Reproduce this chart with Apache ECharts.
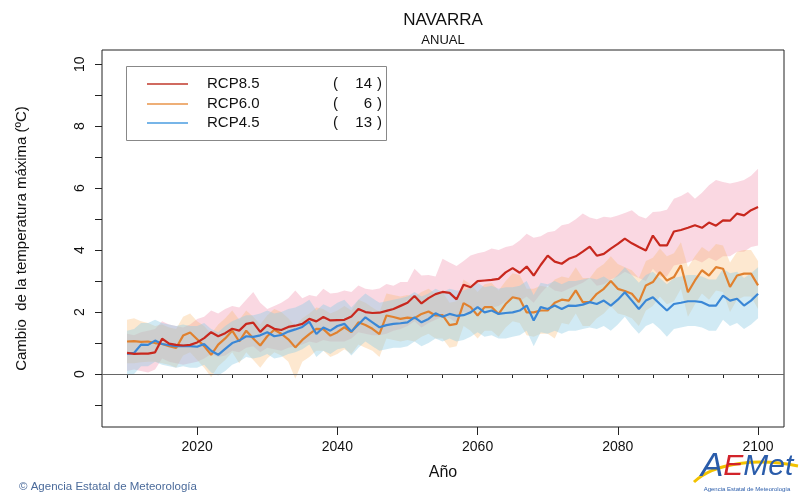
<!DOCTYPE html>
<html>
<head>
<meta charset="utf-8">
<script src="https://cdn.jsdelivr.net/npm/echarts@6/dist/echarts.min.js"></script>
<style>
html,body{margin:0;padding:0;background:#fff;}
#chart{width:802px;height:492px;}
</style>
</head>
<body>
<div id="chart"></div>
<script>
// ---------- DATA ----------
const years = [];
for (let y = 2010; y <= 2100; y++) years.push(y);

const rcp85 = [0.68,0.65,0.66,0.66,0.70,1.14,0.98,0.94,0.92,0.94,
1.02,1.16,1.35,1.22,1.32,1.46,1.40,1.62,1.66,1.36,
1.58,1.46,1.42,1.52,1.56,1.62,1.78,1.70,1.84,1.73,
1.74,1.75,1.86,2.10,2.00,1.97,1.98,2.04,2.10,2.20,
2.30,2.52,2.28,2.45,2.58,2.65,2.62,2.41,2.88,2.80,
3.00,3.02,3.04,3.07,3.28,3.42,3.27,3.47,3.18,3.52,
3.82,3.63,3.56,3.72,3.80,3.95,4.11,3.82,3.88,4.05,
4.20,4.37,4.22,4.10,3.99,4.47,4.15,4.15,4.60,4.65,
4.72,4.80,4.72,4.89,4.79,4.96,4.95,5.18,5.12,5.29,5.39];

const rcp60 = [1.05,1.06,1.04,1.05,1.00,0.97,0.90,0.84,1.24,1.34,
1.12,0.90,0.62,0.95,1.15,1.40,1.05,1.40,1.15,0.92,
1.22,1.43,1.30,1.12,0.86,1.10,1.29,1.46,1.45,1.24,
1.35,1.51,1.35,1.67,1.58,1.46,1.29,1.89,1.84,1.78,
1.82,1.80,1.94,2.02,1.89,1.90,1.58,1.62,2.29,2.16,
1.89,2.16,2.16,1.94,2.26,2.48,2.43,1.99,1.99,2.05,
2.05,2.30,2.40,2.37,2.70,2.32,2.33,2.59,2.75,3.00,
2.75,2.68,2.59,2.32,2.86,2.97,3.29,3.02,3.13,3.51,
2.64,3.02,3.35,3.18,3.45,3.40,2.81,3.18,3.24,3.24,2.86];

const rcp45 = [0.65,0.68,0.95,0.94,1.08,0.97,0.93,0.90,0.91,0.90,
0.88,0.97,0.75,0.62,0.81,1.00,1.08,1.22,1.20,1.25,
1.35,1.22,1.26,1.37,1.44,1.52,1.69,1.29,1.50,1.40,
1.55,1.62,1.37,1.60,1.83,1.67,1.51,1.58,1.62,1.64,
1.67,1.83,1.67,1.78,1.96,1.85,1.94,1.88,1.90,1.99,
2.16,1.99,2.05,1.94,1.97,1.99,2.05,2.21,1.73,2.16,
2.10,2.21,2.10,2.21,2.20,2.24,2.32,2.26,2.37,2.21,
2.40,2.64,2.37,2.10,2.37,2.48,2.26,2.05,2.26,2.30,
2.35,2.35,2.32,2.21,2.21,2.53,2.37,2.43,2.21,2.37,2.59];

const rcp85Upper = [1.30,1.25,1.35,1.40,1.45,1.70,1.60,1.55,1.50,1.60,
1.78,1.85,2.05,1.95,2.10,2.20,2.15,2.40,2.65,2.30,
2.10,2.20,2.30,2.45,2.70,2.45,2.55,2.50,2.75,2.60,
2.62,2.70,2.65,2.86,2.75,2.72,2.76,2.91,2.85,2.97,
2.97,3.40,3.18,3.20,3.15,3.72,3.60,3.49,3.65,3.83,
3.90,3.95,4.05,4.00,4.10,4.15,4.31,4.53,4.40,4.45,
4.58,4.62,4.80,4.85,5.00,5.18,5.05,5.00,5.08,5.05,
5.12,5.20,5.29,5.10,5.02,5.23,5.25,5.30,5.66,5.75,
5.88,5.66,5.85,6.09,6.26,6.20,6.15,6.20,6.26,6.40,6.63];

const rcp85Lower = [0.10,0.15,0.10,0.05,0.15,0.50,0.40,0.35,0.30,0.35,
0.40,0.50,0.65,0.55,0.60,0.75,0.70,0.85,0.90,0.70,
0.85,0.80,0.75,0.85,0.90,0.95,1.05,1.00,1.10,1.05,
1.05,1.05,1.15,1.35,1.30,1.25,1.25,1.30,1.40,1.45,
1.55,1.70,1.50,1.65,1.75,1.85,1.80,1.65,2.00,1.95,
2.10,2.15,2.15,2.20,2.35,2.45,2.35,2.50,2.30,2.60,
2.85,2.70,2.65,2.75,2.85,2.95,3.10,2.85,2.90,3.05,
3.15,3.30,3.20,3.10,3.00,3.40,3.15,3.15,3.50,3.55,
3.60,3.70,3.60,3.75,3.65,3.80,3.80,3.95,3.95,4.10,4.15];

const rcp60Upper = [1.75,1.80,1.70,1.65,1.55,1.60,1.50,1.45,1.85,1.95,
1.70,1.55,1.30,1.60,1.80,2.05,1.75,2.05,1.85,1.60,
1.90,2.10,2.00,1.80,1.55,1.80,1.95,2.15,2.10,1.95,
2.05,2.20,2.05,2.40,2.30,2.15,2.00,2.60,2.55,2.50,
2.55,2.50,2.65,2.75,2.60,2.65,2.30,2.35,3.05,2.90,
2.65,2.90,2.95,2.70,3.00,3.25,3.20,2.75,2.75,2.85,
2.80,3.05,3.15,3.10,3.45,3.10,3.10,3.40,3.55,3.80,
3.55,3.45,3.35,3.10,3.65,3.75,4.05,3.80,3.90,4.25,
3.45,3.80,4.10,3.95,4.20,4.15,3.60,3.95,4.00,4.00,3.65];

const rcp60Lower = [0.35,0.35,0.38,0.40,0.40,0.35,0.30,0.20,0.60,0.70,
0.45,0.20,-0.10,0.25,0.45,0.70,0.35,0.70,0.45,0.20,
0.50,0.70,0.60,0.40,-0.15,0.40,0.55,0.75,0.75,0.55,
0.65,0.80,0.65,0.95,0.85,0.75,0.55,1.15,1.10,1.05,
1.10,1.05,1.20,1.30,1.15,1.15,0.85,0.90,1.55,1.40,
1.15,1.40,1.40,1.20,1.50,1.70,1.65,1.25,1.20,1.30,
1.30,1.15,1.65,1.60,1.95,1.55,1.55,1.80,1.95,2.20,
1.95,1.90,1.80,1.55,2.05,2.20,2.50,2.25,2.35,2.75,
1.85,2.25,2.60,2.40,2.70,2.65,2.00,2.40,2.50,2.50,2.10];

const rcp45Upper = [1.40,1.45,1.65,1.65,1.75,1.65,1.60,1.55,1.60,1.55,
1.55,1.65,1.45,1.35,1.55,1.70,1.80,1.90,1.90,1.95,
2.05,1.95,2.00,2.10,2.15,2.25,2.40,2.05,2.25,2.15,
2.30,2.40,2.15,2.40,2.60,2.45,2.30,2.35,2.40,2.45,
2.50,2.65,2.50,2.60,2.75,2.65,2.75,2.70,2.70,2.80,
2.95,2.80,2.85,2.75,2.80,2.80,2.85,3.00,2.55,2.95,
2.90,3.00,2.90,3.00,3.00,3.05,3.10,3.05,3.15,3.00,
3.20,3.45,3.20,2.95,3.20,3.30,3.10,2.90,3.10,3.15,
3.20,3.20,3.15,3.05,3.05,3.40,3.25,3.30,3.10,3.25,3.45];

const rcp45Lower = [-0.05,0.00,0.25,0.25,0.40,0.30,0.25,0.20,0.25,0.20,
0.20,0.30,0.05,-0.05,0.10,0.30,0.40,0.55,0.50,0.55,
0.65,0.50,0.55,0.65,0.70,0.80,0.95,0.55,0.75,0.65,
0.80,0.85,0.60,0.85,1.05,0.90,0.75,0.80,0.85,0.85,
0.90,1.05,0.90,1.00,1.15,1.05,1.15,1.05,1.10,1.20,
1.35,1.20,1.25,1.15,1.15,1.20,1.25,1.40,0.90,1.35,
1.30,1.40,1.30,1.40,1.40,1.45,1.50,1.45,1.55,1.40,
1.60,1.85,1.55,1.30,1.55,1.65,1.45,1.20,1.45,1.50,
1.55,1.55,1.50,1.40,1.40,1.75,1.55,1.65,1.45,1.60,1.80];

const scenarioNames = ['RCP8.5', 'RCP6.0', 'RCP4.5'];
const modelCounts = ['14', '6', '13'];
const xTicks = [2010,2015,2020,2025,2030,2035,2040,2045,2050,2055,2060,2065,2070,2075,2080,2085,2090,2095,2100];
const xLabels = [2020, 2040, 2060, 2080, 2100];
const yTicks = [-1,0,1,2,3,4,5,6,7,8,9,10];
const yLabels = [0,2,4,6,8,10];

// ---------- CHART ----------
const FONT = "'Liberation Sans', Arial, Helvetica, sans-serif";
const XMIN = 2006.43, XMAX = 2103.7, YMIN = -1.71, YMAX = 10.46;

function band(lower, upper, fill, z) {
  return {
    type: 'custom', z: z, silent: true, clip: true,
    data: years.map((y, i) => [y, lower[i], upper[i]]),
    renderItem: function (params, api) {
      if (params.dataIndex !== 0) return null;
      const pts = [];
      for (let i = 0; i < years.length; i++) pts.push(api.coord([years[i], upper[i]]));
      for (let i = years.length - 1; i >= 0; i--) pts.push(api.coord([years[i], lower[i]]));
      return { type: 'polygon', shape: { points: pts }, style: { fill: fill } };
    }
  };
}

function line(vals, color, z) {
  return {
    type: 'line', z: z, symbol: 'none', silent: true,
    data: years.map((y, i) => [y, vals[i]]),
    lineStyle: { color: color, width: 2.2 }
  };
}

const chart = echarts.init(document.getElementById('chart'), null, { renderer: 'canvas' });

const legendColors = ['#c0392b', '#e8944a', '#4a9de0'];
const legendGraphics = [
  { type: 'rect', left: 126, top: 66, shape: { width: 260, height: 74 },
    style: { fill: '#fff', stroke: '#888', lineWidth: 1 }, z: 100 }
];
const rowY = [84, 104, 123];
for (let k = 0; k < 3; k++) {
  legendGraphics.push({ type: 'line', z: 101, shape: { x1: 147, y1: rowY[k], x2: 188, y2: rowY[k] },
    style: { stroke: legendColors[k], lineWidth: 1.5 } });
  legendGraphics.push({ type: 'text', z: 101, x: 207, y: rowY[k],
    style: { text: scenarioNames[k], font: '15px ' + FONT, fill: '#111', textVerticalAlign: 'middle' } });
  legendGraphics.push({ type: 'text', z: 101, x: 333, y: rowY[k],
    style: { text: '(', font: '15px ' + FONT, fill: '#111', textVerticalAlign: 'middle' } });
  legendGraphics.push({ type: 'text', z: 101, x: 372, y: rowY[k],
    style: { text: modelCounts[k], font: '15px ' + FONT, fill: '#111', textAlign: 'right', textVerticalAlign: 'middle' } });
  legendGraphics.push({ type: 'text', z: 101, x: 377, y: rowY[k],
    style: { text: ')', font: '15px ' + FONT, fill: '#111', textVerticalAlign: 'middle' } });
}

const otherGraphics = [
  { type: 'text', x: 443, y: 20, style: { text: 'NAVARRA', font: '17px ' + FONT, fill: '#111', textAlign: 'center', textVerticalAlign: 'middle' } },
  { type: 'text', x: 443, y: 40, style: { text: 'ANUAL', font: '13px ' + FONT, fill: '#111', textAlign: 'center', textVerticalAlign: 'middle' } },
  { type: 'text', x: 19, y: 487, style: { text: '© Agencia Estatal de Meteorología', font: '11.5px ' + FONT, fill: '#4a6a9a', textVerticalAlign: 'middle' } },
  { type: 'bezierCurve', z: 5, shape: { x1: 694, y1: 482, cpx1: 715, cpy1: 462, cpx2: 760, cpy2: 458, x2: 798, y2: 466 },
    style: { stroke: '#f2c200', lineWidth: 3, fill: 'none' } },
  { type: 'text', z: 6, x: 747, y: 467, style: {
      text: '{a|A}{e|E}{m|Met}',
      rich: {
        a: { font: 'italic 34px ' + FONT, fill: '#2a5caa' },
        e: { font: 'italic 30px ' + FONT, fill: '#d2232a' },
        m: { font: 'italic 30px ' + FONT, fill: '#2a5caa' }
      },
      textAlign: 'center', textVerticalAlign: 'middle' } },
  { type: 'text', x: 747, y: 489, style: { text: 'Agencia Estatal de Meteorología', font: '6px ' + FONT, fill: '#2a5caa', textAlign: 'center', textVerticalAlign: 'middle' } }
];

const option = {
  animation: false,
  backgroundColor: '#fff',
  grid: { left: 102, right: 18, top: 50, bottom: 65, show: true, borderColor: '#222', borderWidth: 1, backgroundColor: 'transparent' },
  xAxis: [
    { type: 'value', min: XMIN, max: XMAX,
      axisLine: { show: false }, splitLine: { show: false },
      axisTick: { show: true, length: 4, customValues: xTicks, lineStyle: { color: '#222' } },
      axisLabel: { show: true, customValues: xLabels, fontSize: 14, color: '#111', margin: 13, fontFamily: FONT,
        formatter: function (v) { return String(Math.round(v)); } },
      name: 'Año', nameLocation: 'middle', nameGap: 38,
      nameTextStyle: { fontSize: 16, color: '#111', fontFamily: FONT } },
    { type: 'value', min: XMIN, max: XMAX, position: 'bottom',
      axisLine: { show: false }, splitLine: { show: false },
      axisTick: { show: true, length: 8, customValues: xLabels, lineStyle: { color: '#222' } },
      axisLabel: { show: false } }
  ],
  yAxis: {
    type: 'value', min: YMIN, max: YMAX,
    axisLine: { show: false }, splitLine: { show: false },
    axisTick: { show: true, length: 7, customValues: yTicks, lineStyle: { color: '#222' } },
    axisLabel: { show: true, customValues: yLabels, rotate: 90, fontSize: 14, color: '#111', margin: 15, fontFamily: FONT,
      formatter: function (v) { return String(Math.round(v)); } },
    name: 'Cambio  de la temperatura máxima (ºC)', nameLocation: 'middle', nameGap: 73, nameRotate: 90,
    nameTextStyle: { fontSize: 15, color: '#111', fontFamily: FONT }
  },
  series: [
    band(rcp85Lower, rcp85Upper, 'rgba(240,135,165,0.32)', 1),
    band(rcp60Lower, rcp60Upper, 'rgba(250,185,110,0.32)', 2),
    band(rcp45Lower, rcp45Upper, 'rgba(145,205,228,0.42)', 3),
    line(rcp60, '#e0812f', 6),
    line(rcp45, '#3a87d6', 7),
    Object.assign(line(rcp85, '#c8281e', 8), {
      markLine: { silent: true, symbol: ['none', 'none'], label: { show: false },
        lineStyle: { color: '#666', width: 1.2, type: 'solid' },
        data: [{ yAxis: 0 }] }
    })
  ],
  graphic: legendGraphics.concat(otherGraphics)
};
chart.setOption(option);
</script>
</body>
</html>
